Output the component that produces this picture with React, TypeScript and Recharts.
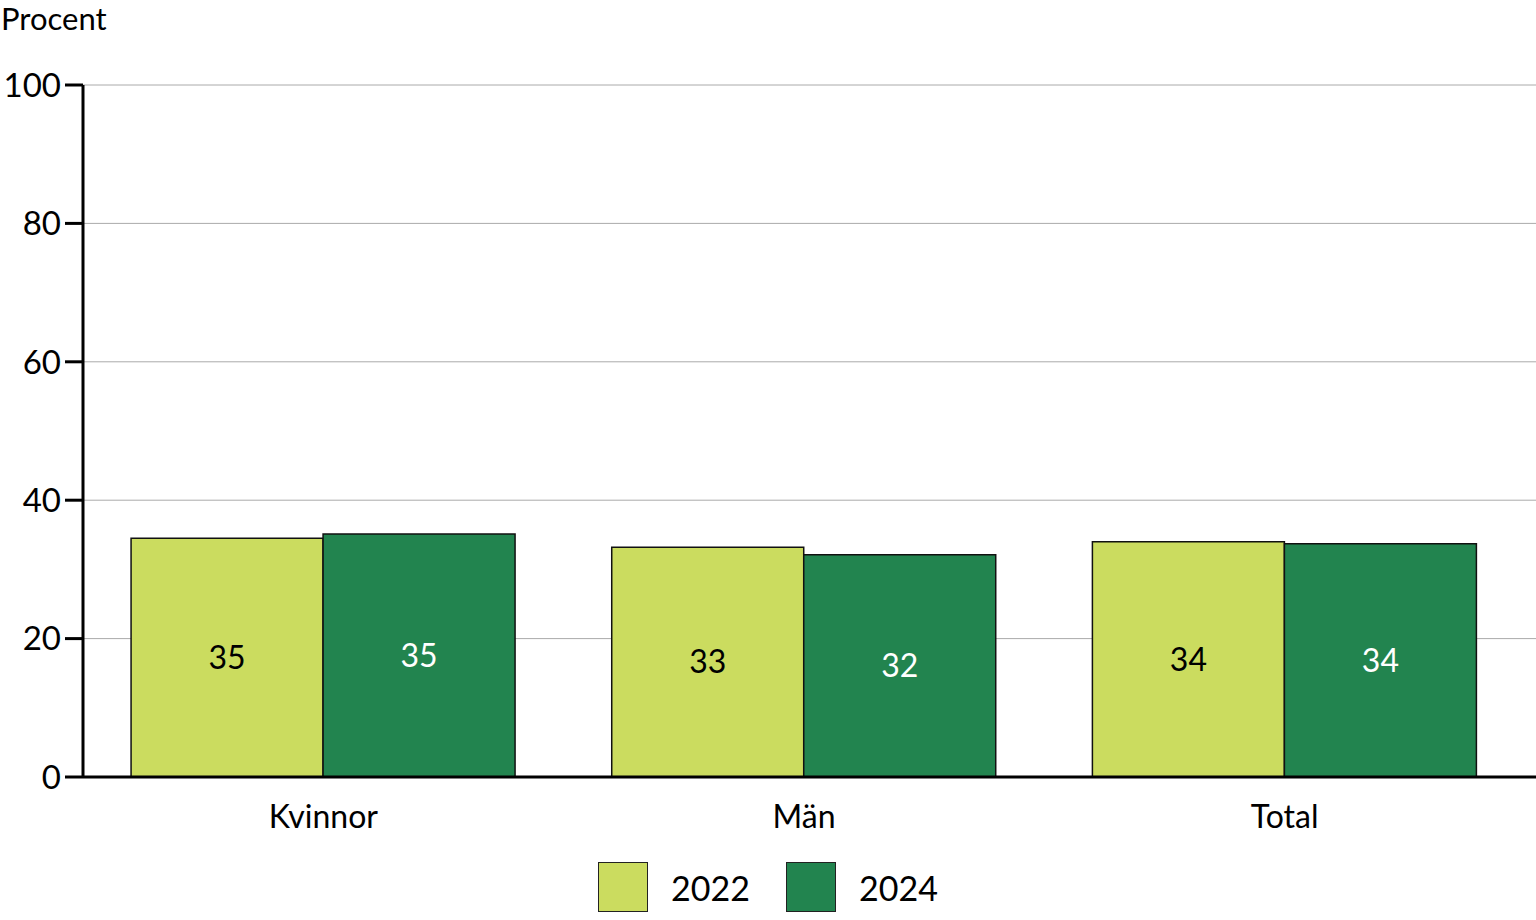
import React from 'react';
import {
  BarChart,
  Bar,
  XAxis,
  YAxis,
  CartesianGrid,
  Legend,
  LabelList,
  Label,
} from 'recharts';

const categories = ['Kvinnor', 'Män', 'Total'];
const values2022 = [34.5, 33.2, 34.0];
const values2024 = [35.1, 32.1, 33.7];
const labels2022 = ['35', '33', '34'];
const labels2024 = ['35', '32', '34'];
const yTicks = [0, 20, 40, 60, 80, 100];

const FONT = 'Lato, "Noto Sans", sans-serif';
const LIGHT = '#cbdc5f';
const DARK = '#22844f';

const chartData = categories.map((name, i) => ({
  name,
  y2022: values2022[i],
  y2024: values2024[i],
  l2022: labels2022[i],
  l2024: labels2024[i],
}));

const LegendBox = () => (
  <div style={{ height: 60, display: 'flex', justifyContent: 'center', alignItems: 'flex-start', fontFamily: FONT }}>
    {[
      { label: '2022', color: LIGHT },
      { label: '2024', color: DARK },
    ].map((item) => (
      <div key={item.label} style={{ display: 'flex', alignItems: 'center', margin: '2px 18px 0 18px' }}>
        <span style={{ width: 48, height: 48, background: item.color, border: '1px solid #222', display: 'inline-block' }} />
        <span style={{ fontSize: 34, marginLeft: 23, color: '#000' }}>{item.label}</span>
      </div>
    ))}
  </div>
);

const App: React.FC = () => {
  return (
    <div style={{ position: 'absolute', left: 0, top: 0, width: 1536, height: 920, background: '#fff' }}>
      <BarChart
        width={1536}
        height={920}
        data={chartData}
        margin={{ top: 85, right: 0, left: 0, bottom: 0 }}
        barCategoryGap="10%"
        barGap={0}
      >
        <CartesianGrid vertical={false} stroke="#aaaaaa" strokeWidth={1} />
        <XAxis
          dataKey="name"
          height={83}
          padding={{ left: 0, right: 11 }}
          axisLine={{ stroke: '#000', strokeWidth: 3 }}
          tickLine={false}
          tickMargin={22}
          tick={{ fill: '#000', fontSize: 32, fontFamily: FONT }}
        />
        <YAxis
          width={83}
          domain={[0, 100]}
          ticks={yTicks}
          axisLine={{ stroke: '#000', strokeWidth: 3 }}
          tickLine={{ stroke: '#000', strokeWidth: 3 }}
          tickSize={18}
          tickMargin={4}
          tick={{ fill: '#000', fontSize: 33, fontFamily: FONT }}
        >
          <Label
            content={() => (
              <text x={1} y={30} fontSize={31} fontFamily={FONT} fill="#000">
                Procent
              </text>
            )}
          />
        </YAxis>
        <Legend verticalAlign="bottom" height={60} content={() => <LegendBox />} />
        <Bar dataKey="y2022" name="2022" fill={LIGHT} stroke="#111" strokeWidth={1.5} isAnimationActive={false}>
          <LabelList dataKey="l2022" position="center" fill="#000" fontSize={32} fontFamily={FONT} />
        </Bar>
        <Bar dataKey="y2024" name="2024" fill={DARK} stroke="#111" strokeWidth={1.5} isAnimationActive={false}>
          <LabelList dataKey="l2024" position="center" fill="#fff" fontSize={32} fontFamily={FONT} />
        </Bar>
      </BarChart>
    </div>
  );
};

export default App;
